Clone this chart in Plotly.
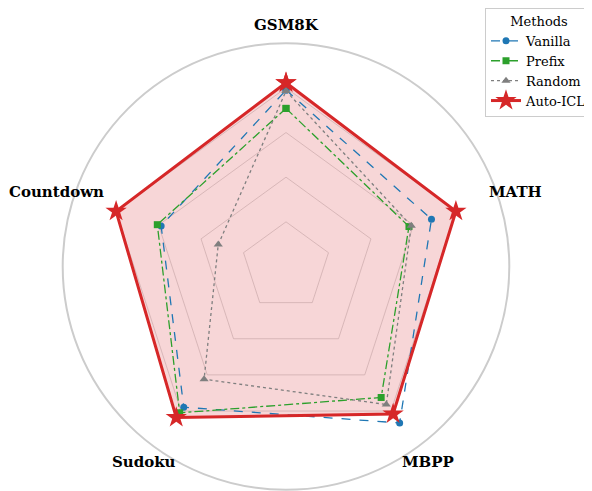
import math
import plotly.graph_objects as go

categories = ["GSM8K", "MATH", "MBPP", "Sudoku", "Countdown"]
vanilla = [0.79, 0.685, 0.866, 0.779, 0.588]
prefix = [0.708, 0.579, 0.725, 0.81, 0.606]
random_ = [0.786, 0.59, 0.764, 0.624, 0.319]
auto_icl = [0.823, 0.80, 0.816, 0.836, 0.80]
grid_levels = [0.2, 0.4, 0.6, 0.8]
label_radius = 1.08

def closed(v):
    return list(v) + [v[0]]

theta = closed(categories)
FONT = "DejaVu Serif"

fig = go.Figure()

for lv in grid_levels:
    fig.add_trace(go.Scatterpolar(
        r=[lv] * len(theta), theta=theta, mode="lines",
        line=dict(color="rgba(185,185,185,0.55)", width=1),
        showlegend=False, hoverinfo="skip"))

fig.add_trace(go.Scatterpolar(
    r=closed(auto_icl), theta=theta, mode="lines", fill="toself",
    fillcolor="rgba(214,39,40,0.19)", line=dict(width=0, color="rgba(0,0,0,0)"),
    showlegend=False, hoverinfo="skip"))

series = [
    ("Vanilla", vanilla, "#1f77b4", "dash", "circle", 7, 1.3),
    ("Prefix", prefix, "#2ca02c", "dashdot", "square", 7, 1.3),
    ("Random", random_, "#7f7f7f", "dot", "triangle-up", 8, 1.3),
    ("Auto-ICL", auto_icl, "#d62728", "solid", "star", 16, 3),
]
for name, vals, color, dash, sym, ms, lw in series:
    fig.add_trace(go.Scatterpolar(
        r=closed(vals), theta=theta, mode="lines+markers", name=name,
        line=dict(color=color, dash=dash, width=lw),
        marker=dict(symbol=sym, size=ms, color=color, line=dict(width=0)),
        cliponaxis=False))

W, H = 592, 491
OFF = 8  # page body offset compensation
cx, cy, R = 286 - OFF, 265.5 - OFF + 1, 223.3

annotations = []
n = len(categories)
for i, cat in enumerate(categories):
    ang = math.radians(90 - 360 / n * i)
    px = cx + label_radius * R * math.cos(ang)
    py = cy - label_radius * R * math.sin(ang)
    annotations.append(dict(
        x=px / W, y=1 - py / H, xref="paper", yref="paper", text=f"<b>{cat}</b>",
        showarrow=False, xanchor="center", yanchor="middle",
        font=dict(family=FONT, size=15, color="black")))

fig.update_layout(
    width=W, height=H,
    margin=dict(l=0, r=0, t=0, b=0),
    paper_bgcolor="white", plot_bgcolor="white",
    font=dict(family=FONT, size=13, color="black"),
    annotations=annotations,
    polar=dict(
        domain=dict(x=[(cx - R) / W, (cx + R) / W], y=[(H - cy - R) / H, (H - cy + R) / H]),
        bgcolor="rgba(0,0,0,0)",
        gridshape="circular",
        radialaxis=dict(range=[0, 1], visible=True, showline=False, showticklabels=False,
                        showgrid=False, ticks=""),
        angularaxis=dict(type="category", categoryarray=categories, rotation=90,
                         direction="clockwise", showgrid=False, showticklabels=False,
                         ticks="", showline=True, linecolor="#cccccc", linewidth=2),
    ),
    legend=dict(
        x=(485 - OFF) / W, y=1, xanchor="left", yanchor="top",
        bgcolor="white", bordercolor="#cccccc", borderwidth=1,
        title=dict(text="Methods", side="top center", font=dict(family=FONT, size=13)),
        font=dict(family=FONT, size=13), tracegroupgap=0, itemwidth=30,
    ),
)

fig.write_html("out.html")
